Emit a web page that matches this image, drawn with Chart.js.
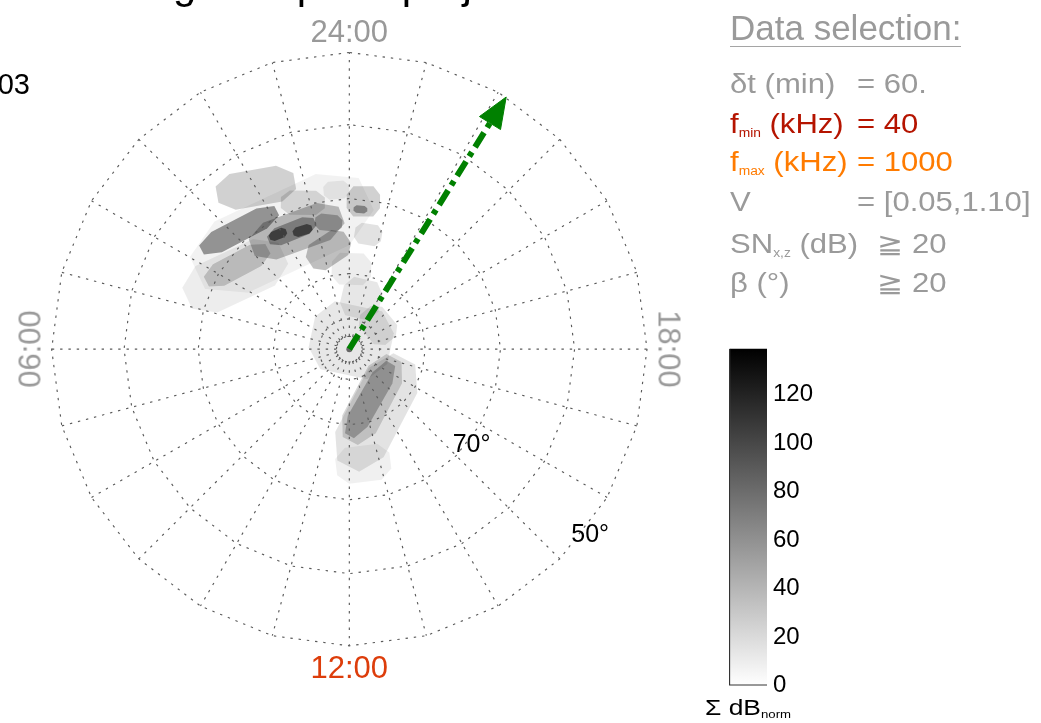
<!DOCTYPE html>
<html>
<head>
<meta charset="utf-8">
<title>Magnetic polar projection</title>
<script src="https://cdn.jsdelivr.net/npm/chart.js"></script>
<style>
html,body{margin:0;padding:0;background:#ffffff;overflow:hidden;}
#wrap{position:relative;width:1041px;height:723px;overflow:hidden;font-family:"Liberation Sans",Arial,Helvetica,sans-serif;}
#main{position:absolute;left:0;top:0;}
#cb{position:absolute;left:729px;top:328px;}
.t{position:absolute;white-space:nowrap;line-height:1;margin:0;padding:0;}
.sub{font-size:12px;vertical-align:-4px;}
</style>
</head>
<body>
<div id="wrap">
<canvas id="main" width="1041" height="723"></canvas>
<canvas id="cb" width="98" height="378"></canvas>
</div>
<script>
// ---------------- data ----------------
// graticule: magnetic local time (h) meridians and invariant-latitude rings (deg)
const mltHours = [0,1,2,3,4,5,6,7,8,9,10,11,12,13,14,15,16,17,18,19,20,21,22,23];
const latRings = [50, 60, 70, 80, 86, 88.3];
const mltLabelHours = [0, 6, 12, 18];
const mltLabelText = ['24:00', '06:00', '12:00', '18:00'];
const latLabelLats = [70, 50];
const latLabelText = ['70°', '50°'];
const latLabelMLT = 15.5;

// source footprints: centre (MLT h, lat deg), half-length / half-width (deg), tilt vs. meridian-normal (deg), summed dB
const blobMLT  = [2.01, 2.00, 2.85, 1.60, 1.73, 2.12, 1.43, 1.17, 0.31, 23.64, 23.70, 0.79, 23.38, 3.81, 3.54, 0.62,
                  23.12, 23.20, 20.64, 13.53, 13.62, 13.49, 12.46, 23.90];
const blobLat  = [72.25, 65.2, 68.5, 72.9, 72.6, 72.1, 73.1, 69.6, 68.8, 70.3, 71.4, 76.6, 74.6, 72.05, 71.45, 73.0,
                  83.15, 88.8, 85.1, 80.9, 82.7, 82.8, 74.7, 79.4];
const blobLen  = [12.3, 5.2, 5.6, 6.3, 3.3, 1.2, 1.3, 2.9, 1.7, 2.2, 0.9, 3.0, 1.8, 7.0, 4.6, 1.8,
                  2.6, 5.3, 2.6, 8.0, 6.2, 5.5, 3.6, 2.6];
const blobWid  = [5.2, 2.4, 1.5, 2.6, 1.2, 0.65, 0.65, 1.6, 1.2, 2.0, 0.5, 2.0, 1.4, 3.4, 1.6, 1.1,
                  2.6, 4.6, 2.0, 3.6, 2.5, 1.5, 2.4, 2.1];
const blobTilt = [-5, -20, -15, -4, -4, -10, -5, -18, 0, 5, 0, 22, 0, -32, -25, -15,
                  0, 0, 0, 39.5, 38, 38, 0, 0];
const blobDB   = [7, 25, 55, 35, 45, 70, 70, 18, 10, 25, 50, 35, 16, 10, 25, 35,
                  13, 13, 14, 15, 22, 35, 8, 10];

// mean direction arrow
const arrowMLT = 21.88;
const arrowLat = [90, 50];

// colour bar
const cbMax = 139;
const cbStep = 20;

// data-selection panel
const selLabels = ['δt (min)', 'f<span class="sub">min</span> (kHz)', 'f<span class="sub">max</span> (kHz)', 'V', 'SN<span class="sub">x,z</span> (dB)', 'β (°)'];
const selValues = ['= 60.', '= 40', '= 1000', '= [0.05,1.10]', '≧ 20', '≧ 20'];

// ---------------- layout / style ----------------
const W = 1041, H = 723, CX = 348, CY = 349, UNIT = 300;
const selColors = ['#9a9a9a', '#b51400', '#ff7b00', '#9a9a9a', '#9a9a9a', '#9a9a9a'];
const selBase = [94, 134, 172, 212, 254, 293];
const selValX = [857, 857, 857, 857, 877, 877];
// normalised footprint outline (octagon)
const SHAPE = [[1, 0.45], [0.6, 1], [-0.6, 1], [-1, 0.45], [-1, -0.45], [-0.6, -1], [0.6, -1], [1, -0.45], [1, 0.45]];
const GRID_COLOR = '#5a5a5a', GRID_DASH = [2.4, 5.9];

const D2R = Math.PI / 180;
const RS = Math.sin((90 - latRings[0]) / 2 * D2R);
function proj(mlt, lat) {           // Lambert equal-area polar projection, outer ring = 1
  const r = Math.sin((90 - lat) / 2 * D2R) / RS;
  const th = mlt * 15 * D2R;
  return {x: -r * Math.sin(th), y: r * Math.cos(th)};
}
const DEG = proj(0, 80).y / 10;

const ds = [];
// footprints
blobMLT.forEach((m, i) => {
  const c = proj(m, blobLat[i]);
  const ang = (m * 15 + 180 + blobTilt[i]) * D2R;
  const mx = Math.cos(ang), my = Math.sin(ang);
  const pts = SHAPE.map(([u, v]) => {
    const a = blobLen[i] * DEG * u, b = blobWid[i] * DEG * v;
    return {x: c.x + a * mx - b * my, y: c.y + a * my + b * mx};
  });
  ds.push({data: pts, showLine: true, fill: 'shape', pointRadius: 0, borderWidth: 0,
    borderColor: 'rgba(0,0,0,0)', backgroundColor: 'rgba(0,0,0,' + (blobDB[i] / cbMax).toFixed(3) + ')', order: 3});
});
// rings
const innerLat = Math.max(...latRings);
latRings.forEach(lat => {
  const pts = mltHours.concat([24]).map(h => proj(h, lat));
  ds.push({data: pts, showLine: true, fill: false, pointRadius: 0, borderColor: GRID_COLOR,
    borderWidth: 1.15, borderDash: lat === innerLat ? [2, 1.6] : GRID_DASH, order: 2});
});
// meridians
mltHours.forEach(h => {
  ds.push({data: [proj(h, innerLat), proj(h, latRings[0])], showLine: true, fill: false, pointRadius: 0,
    borderColor: GRID_COLOR, borderWidth: 1.15, borderDash: GRID_DASH, order: 2});
});
// arrow
const tip = proj(arrowMLT, arrowLat[1]);
const origin = proj(arrowMLT, arrowLat[0]);
const alen = Math.hypot(tip.x - origin.x, tip.y - origin.y);
const ux = (tip.x - origin.x) / alen, uy = (tip.y - origin.y) / alen;
const HEAD_L = 31 / UNIT, HEAD_W = 12.5 / UNIT;
const base = {x: tip.x - ux * HEAD_L, y: tip.y - uy * HEAD_L};
ds.push({data: [origin, base], showLine: true, fill: false, pointRadius: 0, borderColor: '#008000',
  borderWidth: 6, borderDash: [17, 6, 5, 6], borderCapStyle: 'butt', order: 0});
ds.push({data: [tip, {x: base.x - uy * HEAD_W, y: base.y + ux * HEAD_W}, {x: base.x + uy * HEAD_W, y: base.y - ux * HEAD_W}, tip],
  showLine: true, fill: 'shape', pointRadius: 0, borderWidth: 1, borderColor: '#008000', backgroundColor: '#008000', order: 0});
ds.push({data: [origin], showLine: false, pointRadius: 3, backgroundColor: '#666', borderColor: '#666', borderWidth: 0, order: 1});

const mainChart = new Chart(document.getElementById('main'), {
  type: 'scatter',
  data: {datasets: ds},
  options: {
    responsive: false, animation: false, events: [],
    layout: {padding: 0},
    plugins: {legend: {display: false}, tooltip: {enabled: false}},
    scales: {
      x: {type: 'linear', display: false, bounds: 'data', min: -CX / UNIT, max: (W - CX) / UNIT},
      y: {type: 'linear', display: false, bounds: 'data', min: -(H - CY) / UNIT, max: CY / UNIT}
    }
  }
});

// colour bar
new Chart(document.getElementById('cb'), {
  type: 'bar',
  data: {labels: [''], datasets: [{
    data: [cbMax],
    backgroundColor: (c) => {
      const ch = c.chart;
      if (!ch.chartArea || !ch.scales.y) return '#888';
      const y = ch.scales.y;
      const g = ch.ctx.createLinearGradient(0, y.getPixelForValue(0), 0, y.getPixelForValue(cbMax));
      g.addColorStop(0, '#ffffff'); g.addColorStop(1, '#000000');
      return g;
    },
    borderColor: '#333', borderWidth: {left: 1.5, bottom: 1.5, top: 0, right: 0}, borderSkipped: false,
    barPercentage: 1, categoryPercentage: 1
  }]},
  options: {
    responsive: false, animation: false, events: [],
    layout: {padding: {top: 20, bottom: 20, left: 0, right: 0}},
    plugins: {legend: {display: false}, tooltip: {enabled: false}},
    scales: {
      x: {display: false},
      y: {position: 'right', min: 0, max: cbMax,
        afterFit: (s) => { s.width = 60; },
        grid: {display: false, drawTicks: false}, border: {display: false},
        ticks: {stepSize: cbStep, includeBounds: false, color: '#000', padding: 6,
          font: {size: 24, family: '"Liberation Sans", Arial, sans-serif'}}}
    }
  }
});

// ---------------- text ----------------
const wrap = document.getElementById('wrap');
function txt(html, css) {
  const d = document.createElement('div');
  d.className = 't'; d.innerHTML = html;
  Object.assign(d.style, css);
  wrap.appendChild(d);
  return d;
}
const toPx = p => ({x: mainChart.scales.x.getPixelForValue(p.x), y: mainChart.scales.y.getPixelForValue(p.y)});
const baseTop = (baseline, fs) => (baseline - 0.8465 * fs) + 'px';

const pole = toPx(proj(0, 90));
txt('Magnetic polar projection', {left: pole.x + 'px', top: baseTop(-1, 42), fontSize: '42px', color: '#000', transform: 'translateX(-50%)'});
txt('03', {right: (W - 30) + 'px', top: baseTop(95, 29), fontSize: '29px', color: '#000'});

mltLabelHours.forEach((h, i) => {
  const p = proj(h, latRings[0]);
  const q = toPx({x: p.x * 1.073, y: p.y * 1.073});
  const rot = h === 6 ? -90 : (h === 18 ? 90 : 0);
  txt(mltLabelText[i], {left: q.x + 'px', top: q.y + 'px', fontSize: '31px',
    color: h === 12 ? '#dd3d0b' : '#999', transform: 'translate(-50%,-50%) rotate(' + rot + 'deg)'});
});
latLabelLats.forEach((lat, i) => {
  const p = proj(latLabelMLT, lat);
  const q = toPx({x: p.x * 1.02, y: p.y * 1.02});
  txt(latLabelText[i], {left: q.x + 'px', top: q.y + 'px', fontSize: '25px', color: '#000', transform: 'translate(-50%,-50%)'});
});

txt('Data selection:', {left: '730px', top: baseTop(40, 35), fontSize: '35px', color: '#9a9a9a'});
const ul = document.createElement('div');
Object.assign(ul.style, {position: 'absolute', left: '730px', top: '46px', width: '231px', height: '0', borderTop: '1.6px solid #a5a5a5'});
wrap.appendChild(ul);
selLabels.forEach((l, i) => {
  txt(l, {left: '730px', top: baseTop(selBase[i], 27), fontSize: '27px', color: selColors[i], transform: 'scaleX(1.15)', transformOrigin: '0 0'});
  txt(selValues[i], {left: selValX[i] + 'px', top: baseTop(selBase[i], 27), fontSize: '27px', color: selColors[i], transform: 'scaleX(1.15)', transformOrigin: '0 0'});
});
txt('Σ dB<span style="font-size:11px;vertical-align:-3px">norm</span>', {left: '705px', top: baseTop(716, 22), fontSize: '22px', color: '#000', transform: 'scaleX(1.2)', transformOrigin: '0 0'});
</script>
</body>
</html>
